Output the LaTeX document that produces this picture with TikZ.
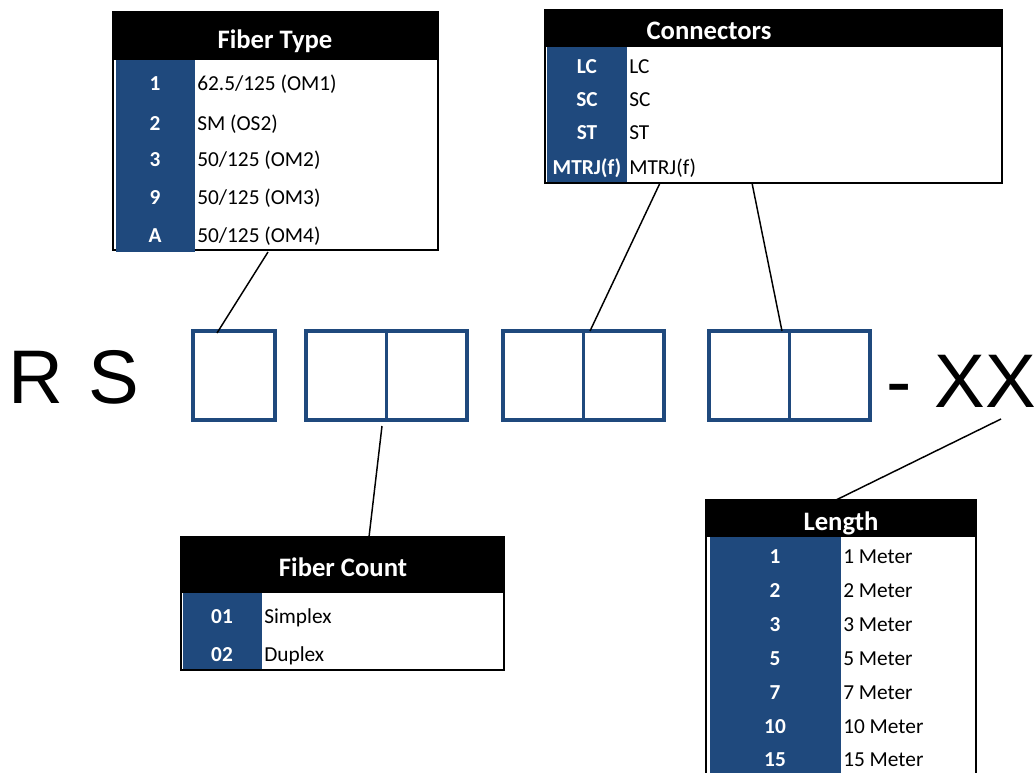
\documentclass[tikz,border=0pt]{standalone}
\usepackage{fontspec}
\setmainfont{Carlito}
\newfontfamily\arialfont{Liberation Sans}
\usetikzlibrary{fit}
\definecolor{rsblue}{RGB}{31,73,125}
\tikzset{
  head/.style={fill=black, inner sep=0pt},
  headtext/.style={text=white, font=\fontsize{20}{22}\selectfont\bfseries, anchor=base, inner sep=0pt},
  body/.style={draw=black, line width=1.8pt, fill=white, inner sep=0pt},
  keycol/.style={fill=rsblue, inner sep=0pt},
  keytext/.style={text=white, font=\fontsize{16}{18}\selectfont\bfseries, anchor=base, inner sep=0pt},
  valtext/.style={font=\fontsize{16}{18}\selectfont, anchor=base west, inner sep=0pt},
  slot/.style={draw=rsblue, line width=2.5pt, inner sep=0pt},
  big/.style={font=\arialfont\fontsize{57}{60}\selectfont, anchor=base, inner sep=0pt},
  link/.style={line width=1.1pt}
}

\begin{document}
\begin{tikzpicture}[x=0.75pt, y=-0.75pt]
    \useasboundingbox (0,0) rectangle (1035,772);

    % part number
    \node[big] (r) at (36,403) {R};
    \node[big] (s) at (114,403) {S};
    \node[slot, fit={(193,331) (275,420)}] (slot1) {};
    \node[slot, fit={(306,331) (467,420)}] (slot2) {};
    \node[slot, fit={(503,331) (664,420)}] (slot3) {};
    \node[slot, fit={(709,331) (870,420)}] (slot4) {};
    \foreach \n in {2,3,4} {
      \draw[draw=rsblue, line width=2.5pt] (slot\n.north) -- (slot\n.south);
    }
    \node[big] (dash) at (899,407) {-};
    \node[big] (xx) at (985,407) {XX};

    % Fiber Type
    \node[body, fit={(113,12) (438,250)}] (ftbody) {};
    \node[head, fit={(113,12) (438,60)}] (fthead) {};
    \node[keycol, fit={(116,60) (195,252)}] (ftkeys) {};
    \node[headtext] (fttitle) at (275,48) {Fiber Type};
    \foreach \y/\k/\v [count=\i] in {84/1/{62.5/125 (OM1)}, 124/2/{SM (OS2)},
      160/3/{50/125 (OM2)}, 198/9/{50/125 (OM3)}, 236/A/{50/125 (OM4)}} {
      \node[keytext] (ftk\i) at (155,{\y+6}) {\k};
      \node[valtext] (ftv\i) at (197,{\y+6}) {\v};
    }

    % Connectors
    \node[body, fit={(545,10) (1002,183)}] (cobody) {};
    \node[head, fit={(545,10) (1002,47)}] (cohead) {};
    \node[keycol, fit={(547,47) (627,182)}] (cokeys) {};
    \node[headtext] (cotitle) at (709,39) {Connectors};
    \foreach \y/\k [count=\i] in {67/LC, 100/SC, 133/ST, 168/MTRJ(f)} {
      \node[keytext] (cok\i) at (587,{\y+6}) {\k};
      \node[valtext] (cov\i) at (629,{\y+6}) {\k};
    }

    % Fiber Count
    \node[body, fit={(181,537) (504,670)}] (fcbody) {};
    \node[head, fit={(181,537) (504,593)}] (fchead) {};
    \node[keycol, fit={(183,593) (262,669)}] (fckeys) {};
    \node[headtext] (fctitle) at (343,576) {Fiber Count};
    \foreach \y/\k/\v [count=\i] in {617/01/Simplex, 655/02/Duplex} {
      \node[keytext] (fck\i) at (222,{\y+6}) {\k};
      \node[valtext] (fcv\i) at (264,{\y+6}) {\v};
    }

    % Length (runs off the page)
    \node[body, fit={(706,500) (976,790)}] (lebody) {};
    \node[head, fit={(706,500) (976,537)}] (lehead) {};
    \node[keycol, fit={(710,537) (841,790)}] (lekeys) {};
    \node[headtext] (letitle) at (841,530) {Length};
    \foreach \y/\k [count=\i] in {557/1, 591/2, 625/3, 659/5, 693/7, 727/10, 760/15} {
      \node[keytext] (lek\i) at (775,{\y+6}) {\k};
      \node[valtext] (lev\i) at (843,{\y+6}) {\k{} Meter};
    }

    % leader lines
    \coordinate (ftfoot) at (268,252);
    \coordinate (slot1top) at (217,333);
    \coordinate (slot2foot) at (382,426);
    \coordinate (fctop) at (369,537);
    \coordinate (cofootA) at (660,183);
    \coordinate (slot3top) at (590,331);
    \coordinate (cofootB) at (752,183);
    \coordinate (slot4top) at (782,331);
    \coordinate (xxfoot) at (1001,419);
    \coordinate (letop) at (836,500);
    \draw[link] (ftfoot) -- (slot1top);
    \draw[link] (slot2foot) -- (fctop);
    \draw[link] (cofootA) -- (slot3top);
    \draw[link] (cofootB) -- (slot4top);
    \draw[link] (xxfoot) -- (letop);

\end{tikzpicture}
\end{document}
